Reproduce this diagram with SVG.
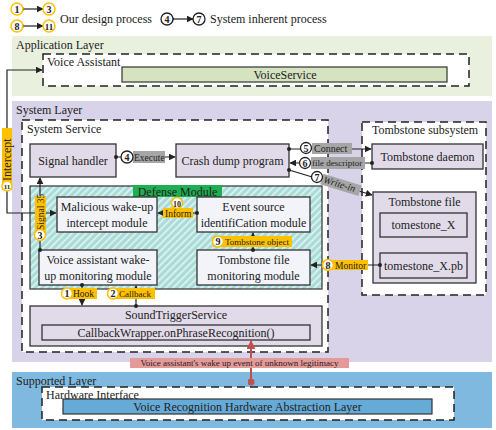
<svg xmlns="http://www.w3.org/2000/svg" width="496" height="430" viewBox="0 0 496 430">
<defs>
<pattern id="hatch" width="5" height="5" patternUnits="userSpaceOnUse" patternTransform="rotate(45)">
<rect width="5" height="5" fill="#a9dcd8"/>
<rect width="1.6" height="5" fill="#e4f4f2"/>
</pattern>
<marker id="ah" viewBox="0 0 10 10" refX="9" refY="5" markerWidth="7" markerHeight="7" markerUnits="userSpaceOnUse" orient="auto"><path d="M0,0 L10,5 L0,10 z" fill="#222"/></marker>
<marker id="dot" viewBox="0 0 10 10" refX="5" refY="5" markerWidth="4" markerHeight="4" markerUnits="userSpaceOnUse"><circle cx="5" cy="5" r="5" fill="#222"/></marker>
<marker id="ahr" viewBox="0 0 10 10" refX="9" refY="5" markerWidth="9" markerHeight="9" markerUnits="userSpaceOnUse" orient="auto"><path d="M0,0 L10,5 L0,10 z" fill="#c0504d"/></marker>
<marker id="dotr" viewBox="0 0 10 10" refX="5" refY="5" markerWidth="7" markerHeight="7" markerUnits="userSpaceOnUse"><circle cx="5" cy="5" r="5" fill="#c0504d"/></marker>
</defs>
<style>
text{fill:#222}
.mid{text-anchor:middle}
.dash{fill:#fff;stroke:#222;stroke-width:1.5;stroke-dasharray:8 5}
.node{fill:#e1dbe9;stroke:#333;stroke-width:1.3}
.dnode{fill:#f3f4fa;stroke:#333;stroke-width:1.3}
.con{stroke:#222;stroke-width:1.2;fill:none}
.olab{fill:#ffc000}
.glab{fill:#a6a6a6}
.oc{fill:#fff;stroke:#ffc000;stroke-width:1.5}
.bc{fill:#fff;stroke:#222;stroke-width:1.3}
.cn{font-weight:bold;text-anchor:middle}
</style>

<g id="application-layer">
<rect x="12" y="36" width="480" height="60" fill="#e9f0de"/>
<text x="16" y="49" font-family="Liberation Serif" font-size="12">Application Layer</text>
</g>
<g id="system-layer">
<rect x="12" y="101" width="480" height="261" fill="#d8d3e8"/>
<text x="16" y="114" font-family="Liberation Serif" font-size="12">System Layer</text>
</g>
<g id="supported-layer">
<rect x="12" y="372" width="480" height="56" fill="#80b9df"/>
<text x="16" y="385" font-family="Liberation Serif" font-size="12">Supported Layer</text>
</g>

<g id="legend">
<line x1="22" y1="9" x2="43" y2="9" class="con" marker-start="url(#dot)" marker-end="url(#ah)"/>
<circle cx="17" cy="9" r="6" class="oc"/><text x="17" y="12.5" class="cn" font-family="Liberation Serif" font-size="10">1</text>
<circle cx="49" cy="9" r="6" class="oc"/><text x="49" y="12.5" class="cn" font-family="Liberation Serif" font-size="10">3</text>
<line x1="22" y1="26" x2="43" y2="26" class="con" marker-start="url(#dot)" marker-end="url(#ah)"/>
<circle cx="17" cy="26" r="6" class="oc"/><text x="17" y="29.5" class="cn" font-family="Liberation Serif" font-size="10">8</text>
<circle cx="49" cy="26" r="6" class="oc"/><text x="49" y="29.5" class="cn" font-family="Liberation Serif" font-size="9">11</text>
<text x="60" y="23" font-family="Liberation Serif" font-size="12">Our design process</text>
<line x1="172" y1="19" x2="193" y2="19" class="con" marker-start="url(#dot)" marker-end="url(#ah)"/>
<circle cx="167" cy="19" r="6" class="bc"/><text x="167" y="22.5" class="cn" font-family="Liberation Serif" font-size="10">4</text>
<circle cx="199" cy="19" r="6" class="bc"/><text x="199" y="22.5" class="cn" font-family="Liberation Serif" font-size="10">7</text>
<text x="210" y="23" font-family="Liberation Serif" font-size="12">System inherent process</text>
</g>

<g id="voice-assistant">
<rect x="43" y="54" width="426" height="32" class="dash"/>
<text x="47" y="66" font-family="Liberation Serif" font-size="12">Voice Assistant</text>
</g>
<g id="voice-service">
<rect x="122" y="67" width="325" height="15" fill="#d5e3c0" stroke="#333" stroke-width="1.2"/>
<text x="285" y="79" class="mid" font-family="Liberation Serif" font-size="12">VoiceService</text>
</g>
<g id="system-service">
<rect x="22" y="120" width="306" height="232" class="dash"/>
<text x="27" y="133" font-family="Liberation Serif" font-size="12">System Service</text>
</g>
<g id="tombstone-subsystem">
<rect x="362" y="122" width="124" height="173" class="dash"/>
<text x="372" y="134" font-family="Liberation Serif" font-size="12">Tombstone subsystem</text>
</g>
<g id="defense-module">
<rect x="30" y="186" width="292" height="103" fill="url(#hatch)" stroke="#333" stroke-width="1.2"/>
<rect x="133" y="185" width="89" height="12" fill="#1fae50"/>
<text x="177.5" y="195.5" class="mid" font-family="Liberation Serif" font-size="12">Defense Module</text>
</g>
<g id="hardware-interface">
<rect x="42" y="387" width="412" height="33" class="dash"/>
<text x="46" y="399" font-family="Liberation Serif" font-size="12">Hardware Interface</text>
</g>

<g id="signal-handler">
<rect x="30" y="144" width="86" height="33" class="node"/>
<text x="73" y="165" class="mid" font-family="Liberation Serif" font-size="12">Signal handler</text>
</g>
<g id="crash-dump-program">
<rect x="176" y="144" width="113" height="33" class="node"/>
<text x="232.5" y="165" class="mid" font-family="Liberation Serif" font-size="12">Crash dump program</text>
</g>
<g id="tombstone-daemon">
<rect x="372" y="144" width="111" height="25" class="node"/>
<text x="427.5" y="161" class="mid" font-family="Liberation Serif" font-size="12">Tombstone daemon</text>
</g>
<g id="tombstone-file">
<rect x="373" y="192" width="103" height="91" class="node"/>
<text x="424.5" y="206" class="mid" font-family="Liberation Serif" font-size="12">Tombstone file</text>
</g>
<g id="tomestone-x">
<rect x="380" y="213" width="87" height="24" class="node"/>
<text x="423.5" y="229" class="mid" font-family="Liberation Serif" font-size="12">tomestone_X</text>
</g>
<g id="tomestone-x-pb">
<rect x="380" y="253" width="87" height="25" class="node"/>
<text x="423.5" y="270" class="mid" font-family="Liberation Serif" font-size="12">tomestone_X.pb</text>
</g>
<g id="malicious-intercept">
<rect x="57" y="197" width="100" height="35" class="dnode"/>
<text x="107" y="211" class="mid" font-family="Liberation Serif" font-size="12">Malicious wake-up</text>
<text x="107" y="227" class="mid" font-family="Liberation Serif" font-size="12">intercept module</text>
</g>
<g id="event-source">
<rect x="197" y="197" width="113" height="35" class="dnode"/>
<text x="253.5" y="211" class="mid" font-family="Liberation Serif" font-size="12">Event source</text>
<text x="253.5" y="227" class="mid" font-family="Liberation Serif" font-size="12">identifiCation module</text>
</g>
<g id="voice-wakeup-monitor">
<rect x="39" y="250" width="118" height="35" class="dnode"/>
<text x="98" y="264" class="mid" font-family="Liberation Serif" font-size="12">Voice assistant wake-</text>
<text x="98" y="280" class="mid" font-family="Liberation Serif" font-size="12">up monitoring module</text>
</g>
<g id="tombstone-monitor">
<rect x="197" y="250" width="113" height="35" class="dnode"/>
<text x="253.5" y="264" class="mid" font-family="Liberation Serif" font-size="12">Tombstone file</text>
<text x="253.5" y="280" class="mid" font-family="Liberation Serif" font-size="12">monitoring module</text>
</g>
<g id="sound-trigger-service">
<rect x="30" y="306" width="292" height="40" class="node"/>
<text x="176" y="319" class="mid" font-family="Liberation Serif" font-size="12">SoundTriggerService</text>
</g>
<g id="callback-wrapper">
<rect x="42" y="325" width="268" height="15" class="node"/>
<text x="176" y="337" class="mid" font-family="Liberation Serif" font-size="12">CallbackWrapper.onPhraseRecognition()</text>
</g>
<g id="voice-recognition-hal">
<rect x="63" y="399" width="369" height="15" fill="#66abd8" stroke="#333" stroke-width="1.2"/>
<text x="247.5" y="411" class="mid" font-family="Liberation Serif" font-size="12">Voice Recognition Hardware Abstraction Layer</text>
</g>

<g id="connectors">
<polyline points="7,130 7,70 42,70" class="con" marker-end="url(#ah)"/>
<polyline points="7,190 7,213 56,213" class="con" marker-end="url(#ah)"/>
<line x1="40" y1="250" x2="40" y2="178" class="con" marker-start="url(#dot)" marker-end="url(#ah)"/>
<line x1="116" y1="157" x2="175" y2="157" class="con" marker-start="url(#dot)" marker-end="url(#ah)"/>
<line x1="289" y1="149" x2="371" y2="149" class="con" marker-start="url(#dot)" marker-end="url(#ah)"/>
<line x1="372" y1="163" x2="290" y2="163" class="con" marker-start="url(#dot)" marker-end="url(#ah)"/>
<line x1="289" y1="170" x2="372" y2="195" class="con" marker-start="url(#dot)" marker-end="url(#ah)"/>
<line x1="197" y1="213" x2="158" y2="213" class="con" marker-start="url(#dot)" marker-end="url(#ah)"/>
<line x1="253" y1="250" x2="253" y2="233" class="con" marker-start="url(#dot)" marker-end="url(#ah)"/>
<line x1="380" y1="265" x2="311" y2="265" class="con" marker-start="url(#dot)" marker-end="url(#ah)"/>
<line x1="82" y1="285" x2="82" y2="305" class="con" marker-start="url(#dot)" marker-end="url(#ah)"/>
<line x1="136" y1="306" x2="136" y2="286" class="con" marker-start="url(#dot)" marker-end="url(#ah)"/>
<line x1="251" y1="382" x2="251" y2="341" stroke="#c0504d" stroke-width="2" marker-start="url(#dotr)" marker-end="url(#ahr)"/>

<rect x="2" y="128" width="10" height="62" class="olab"/>
<text transform="translate(10.5,181) rotate(-90)" font-family="Liberation Serif" font-size="12">Intercept</text>
<circle cx="7" cy="186" r="5" class="oc"/><text x="7" y="189" class="cn" font-family="Liberation Serif" font-size="7">11</text>

<rect x="35" y="196" width="11" height="38" class="olab"/>
<text transform="translate(44,230) rotate(-90)" font-family="Liberation Serif" font-size="9.5">Signal 35</text>
<circle cx="40" cy="235" r="5.5" class="oc"/><text x="40" y="238.5" class="cn" font-family="Liberation Serif" font-size="10">3</text>

<rect x="133" y="151" width="32" height="12" class="glab"/>
<text x="134" y="160.5" font-family="Liberation Serif" font-size="9.5">Execute</text>
<circle cx="127" cy="157" r="6" class="bc"/><text x="127" y="160.5" class="cn" font-family="Liberation Serif" font-size="10">4</text>

<rect x="312" y="143" width="40" height="11" class="glab"/>
<text x="314" y="152" font-family="Liberation Serif" font-size="10">Connect</text>
<circle cx="306" cy="148" r="5.5" class="bc"/><text x="306" y="151.5" class="cn" font-family="Liberation Serif" font-size="10">5</text>

<rect x="311" y="157" width="54" height="12" class="glab"/>
<text x="312" y="166" font-family="Liberation Serif" font-size="9">file descriptor</text>
<circle cx="305" cy="163" r="5.5" class="bc"/><text x="305" y="166.5" class="cn" font-family="Liberation Serif" font-size="10">6</text>

<g transform="translate(317,177.5) rotate(17)">
<rect x="5" y="-5.5" width="40" height="11" class="glab"/>
<text x="7" y="3" font-family="Liberation Serif" font-size="10" font-style="italic">Write-in</text>
</g>
<circle cx="317" cy="177" r="5.5" class="bc"/><text x="317" y="180.5" class="cn" font-family="Liberation Serif" font-size="10">7</text>

<rect x="163" y="208" width="30" height="10" class="olab"/>
<text x="165" y="216.5" font-family="Liberation Serif" font-size="9.5">Inform</text>
<circle cx="177" cy="203" r="5.5" class="oc"/><text x="177" y="206.5" class="cn" font-family="Liberation Serif" font-size="8">10</text>

<rect x="213" y="236" width="79" height="11" class="olab"/>
<text x="225" y="245" font-family="Liberation Serif" font-size="9">Tombstone object</text>
<circle cx="218" cy="241.5" r="5.5" class="oc"/><text x="218" y="245" class="cn" font-family="Liberation Serif" font-size="10">9</text>

<rect x="331" y="260" width="37" height="10" class="olab"/>
<text x="335" y="268.5" font-family="Liberation Serif" font-size="9.5">Monitor</text>
<circle cx="328" cy="265" r="5.5" class="oc"/><text x="328" y="268.5" class="cn" font-family="Liberation Serif" font-size="10">8</text>

<rect x="64" y="288" width="33" height="11" class="olab"/>
<text x="73" y="297" font-family="Liberation Serif" font-size="9.5">Hook</text>
<circle cx="67" cy="293.5" r="5.5" class="oc"/><text x="67" y="297" class="cn" font-family="Liberation Serif" font-size="10">1</text>

<rect x="113" y="288" width="42" height="11" class="olab"/>
<text x="119" y="297" font-family="Liberation Serif" font-size="9">Callback</text>
<circle cx="113" cy="293.5" r="5.5" class="oc"/><text x="113" y="297" class="cn" font-family="Liberation Serif" font-size="10">2</text>

<rect x="130" y="358" width="219" height="10" fill="#e49a98"/>
<text x="239.5" y="366" class="mid" font-family="Liberation Serif" font-size="9">Voice assistant's wake up event of unknown legitimacy</text>
</g>
</svg>
